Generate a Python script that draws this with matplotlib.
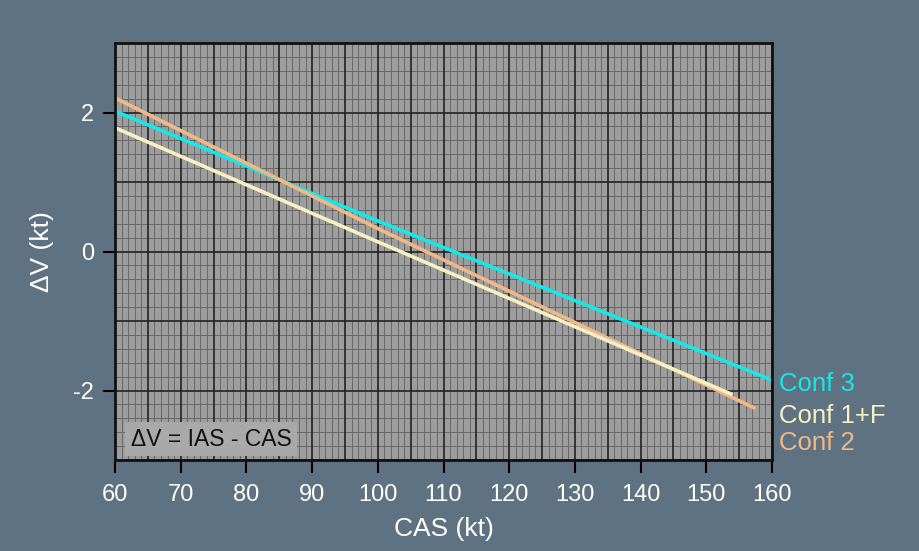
import matplotlib.pyplot as plt
from matplotlib.ticker import MultipleLocator

# CAS (kt) vs delta V (kt)
conf3_x = [60, 100, 160]
conf3_y = [2.02, 0.44, -1.85]
conf2_x = [60, 100, 157.5]
conf2_y = [2.21, 0.33, -2.26]
conf1f_x = [60, 100, 154]
conf1f_y = [1.78, 0.14, -2.06]

series_names = ["Conf 3", "Conf 1+F", "Conf 2"]
label_y = [-1.91, -2.37, -2.75]

bg = "#5f7282"
c_cyan = "#14e8e8"
c_orange = "#f0b887"
c_yellow = "#f6f0c4"

plt.rcParams['font.family'] = ['Liberation Sans', 'DejaVu Sans']
plt.rcParams['axes.unicode_minus'] = False

fig = plt.figure(figsize=(9.2, 5.51), dpi=100, facecolor=bg)
ax = fig.add_axes([115/920, 1 - 460/551, 657/920, 417/551])
ax.set_facecolor("#9d9d9d")

ax.set_xlim(60, 160)
ax.set_ylim(-3, 3)

# grid: minor every 1 kt / 0.2 kt, major every 5 kt / 1 kt
for x in range(60, 161):
    if x % 5 == 0:
        ax.axvline(x, color="#222222", lw=1.2, zorder=1)
    else:
        ax.axvline(x, color="#686868", lw=0.7, zorder=0.5)
for i in range(-15, 16):
    y = i * 0.2
    if i % 5 == 0:
        ax.axhline(y, color="#222222", lw=1.2, zorder=1)
    else:
        ax.axhline(y, color="#686868", lw=0.7, zorder=0.5)

ax.plot(conf3_x, conf3_y, color=c_cyan, lw=2.6, zorder=3, solid_capstyle="butt")
ax.plot(conf2_x, conf2_y, color=c_orange, lw=2.6, zorder=3, solid_capstyle="butt")
ax.plot(conf1f_x, conf1f_y, color=c_yellow, lw=2.6, zorder=4, solid_capstyle="butt")

for name, yy, col in zip(series_names, label_y, [c_cyan, c_yellow, c_orange]):
    ax.text(161, yy, name, color=col, fontsize=18.5, va="center", ha="left", clip_on=False)

ax.xaxis.set_major_locator(MultipleLocator(10))
ax.set_yticks([-2, 0, 2])
ax.tick_params(axis="both", direction="out", length=9, width=1.5, color="black",
               labelcolor="white", labelsize=17)
ax.tick_params(axis="x", pad=8)
ax.tick_params(axis="y", pad=6)

for s in ax.spines.values():
    s.set_color("#111111")
    s.set_linewidth(2)
    s.set_zorder(5)

ax.set_xlabel("CAS (kt)", color="white", fontsize=19, labelpad=8)
ax.set_ylabel("ΔV (kt)", color="white", fontsize=19, labelpad=14)

ax.text(0.024, 0.05, "ΔV = IAS - CAS", transform=ax.transAxes, fontsize=16.5,
        color="#111111", va="center", ha="left", zorder=6,
        bbox=dict(facecolor="#a9a9a9", edgecolor="none", pad=4))

fig.savefig("out.png", dpi=100, facecolor=bg)
